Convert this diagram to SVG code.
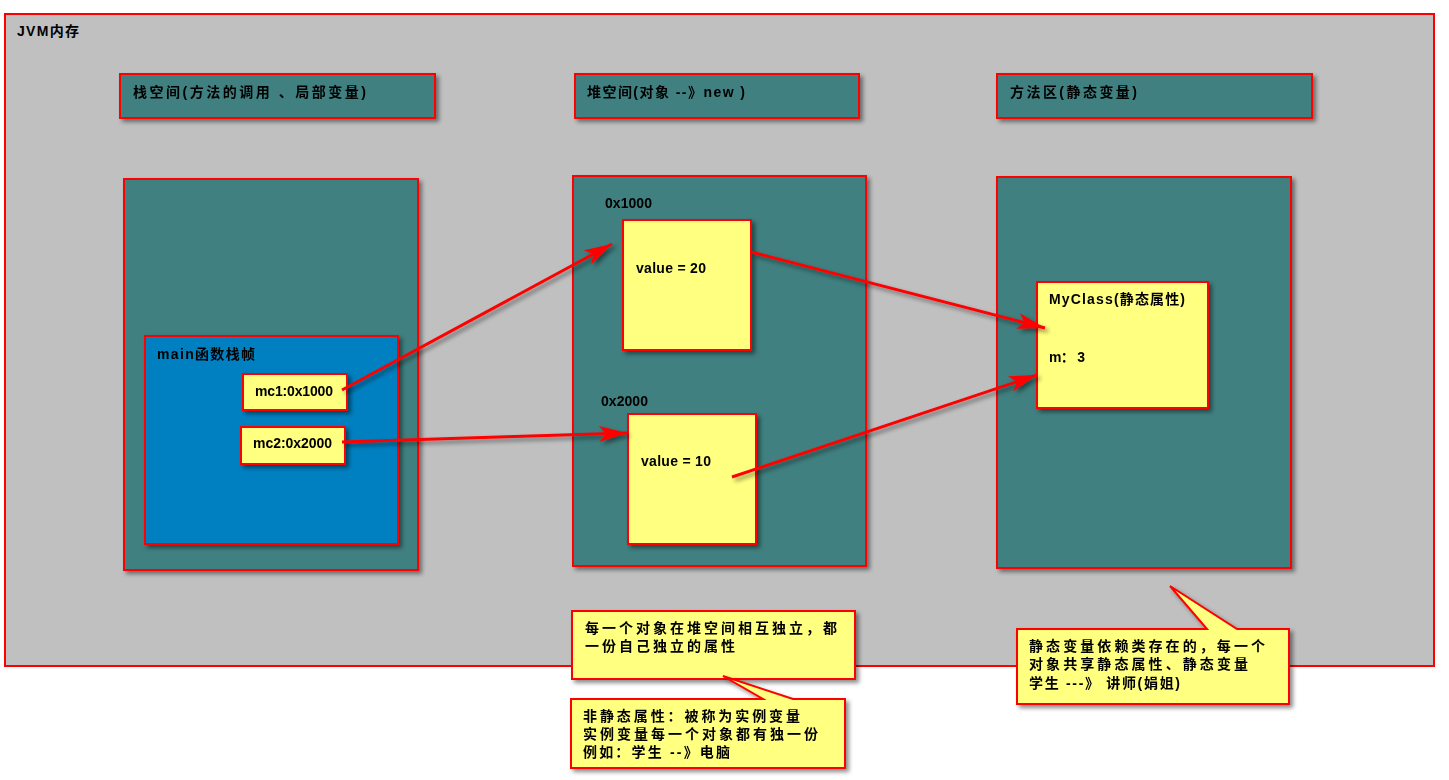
<svg xmlns="http://www.w3.org/2000/svg" width="1449" height="780" viewBox="0 0 1449 780">
<style>
.t{font-family:"Liberation Sans","Noto Sans CJK SC",sans-serif;font-size:14px;font-weight:bold;fill:#000}
.outer{fill:#c0c0c0;stroke:#ff0000;stroke-width:2}
.teal{fill:#408080;stroke:#ff0000;stroke-width:2}
.blue{fill:#0080c0;stroke:#ff0000;stroke-width:2}
.yel{fill:#ffff80;stroke:#ff0000;stroke-width:2}
.arr{fill:none;stroke:#ff0000;stroke-width:3}
</style>
<defs>
<filter id="sh" x="-20%" y="-20%" width="140%" height="140%">
<feDropShadow dx="3" dy="3" stdDeviation="2" flood-color="#000" flood-opacity="0.45"/>
</filter>
<marker id="ah" markerUnits="userSpaceOnUse" markerWidth="30" markerHeight="16" refX="28" refY="8" orient="auto">
<path d="M0,0 L28,8 L0,16 L7,8 Z" fill="#ff0000"/>
</marker>
</defs>
<rect width="1449" height="780" fill="#ffffff"/>
<g id="jvm">
<rect class="outer" x="5" y="14" width="1429" height="652"/>
<text class="t" x="17" y="36" textLength="62">JVM内存</text>
</g>
<g id="stack-header" filter="url(#sh)">
<rect class="teal" x="120" y="74" width="315" height="44"/>
<text class="t" x="133" y="97" textLength="233">栈空间(方法的调用 、局部变量)</text>
</g>
<g id="heap-header" filter="url(#sh)">
<rect class="teal" x="575" y="74" width="284" height="44"/>
<text class="t" x="587" y="97" textLength="158">堆空间(对象 --》new )</text>
</g>
<g id="method-header" filter="url(#sh)">
<rect class="teal" x="997" y="74" width="315" height="44"/>
<text class="t" x="1010" y="97" textLength="127">方法区(静态变量)</text>
</g>
<g id="stack-panel" filter="url(#sh)">
<rect class="teal" x="124" y="179" width="294" height="391"/>
</g>
<g id="heap-panel" filter="url(#sh)">
<rect class="teal" x="573" y="176" width="293" height="390"/>
<text class="t" x="605" y="208" textLength="47">0x1000</text>
<text class="t" x="601" y="406" textLength="47">0x2000</text>
</g>
<g id="method-panel" filter="url(#sh)">
<rect class="teal" x="997" y="177" width="294" height="391"/>
</g>
<g id="main-frame" filter="url(#sh)">
<rect class="blue" x="145" y="336" width="253" height="208"/>
<text class="t" x="157" y="359" textLength="98">main函数栈帧</text>
</g>
<g id="mc1" filter="url(#sh)">
<rect class="yel" x="243" y="374" width="104" height="36"/>
<text class="t" x="255" y="396" textLength="78">mc1:0x1000</text>
</g>
<g id="mc2" filter="url(#sh)">
<rect class="yel" x="241" y="427" width="104" height="37"/>
<text class="t" x="253" y="448" textLength="79">mc2:0x2000</text>
</g>
<g id="obj1" filter="url(#sh)">
<rect class="yel" x="623" y="220" width="128" height="130"/>
<text class="t" x="636" y="273" textLength="70">value = 20</text>
</g>
<g id="obj2" filter="url(#sh)">
<rect class="yel" x="628" y="414" width="128" height="130"/>
<text class="t" x="641" y="466" textLength="70">value = 10</text>
</g>
<g id="myclass" filter="url(#sh)">
<rect class="yel" x="1037" y="282" width="171" height="126"/>
<text class="t" x="1049" y="304" textLength="136">MyClass(静态属性)</text>
<text class="t" x="1049" y="362" textLength="36">m： 3</text>
</g>
<g id="connectors" filter="url(#sh)">
<path class="arr" d="M342,390 L612,244" marker-end="url(#ah)"/>
<path class="arr" d="M342,442 L627,433" marker-end="url(#ah)"/>
<path class="arr" d="M751,252 L1045,328" marker-end="url(#ah)"/>
<path class="arr" d="M732,477 L1037,375" marker-end="url(#ah)"/>
</g>
<g id="note1" filter="url(#sh)">
<rect class="yel" x="572" y="611" width="283" height="68"/>
<text class="t" x="585" y="633" textLength="252">每一个对象在堆空间相互独立，都</text>
<text class="t" x="585" y="651" textLength="150">一份自己独立的属性</text>
</g>
<g id="note2" filter="url(#sh)">
<path class="yel" d="M571,699 L763,699 L723,676 L793,699 L845,699 L845,768 L571,768 Z"/>
<text class="t" x="583" y="721" textLength="217">非静态属性：被称为实例变量</text>
<text class="t" x="583" y="739" textLength="235">实例变量每一个对象都有独一份</text>
<text class="t" x="583" y="757" textLength="147">例如：学生 --》电脑</text>
</g>
<g id="note3" filter="url(#sh)">
<path class="yel" d="M1017,629 L1207,629 L1170,586 L1237,629 L1289,629 L1289,704 L1017,704 Z"/>
<text class="t" x="1029" y="651" textLength="236">静态变量依赖类存在的，每一个</text>
<text class="t" x="1029" y="669" textLength="219">对象共享静态属性、静态变量</text>
<text class="t" x="1029" y="688" textLength="151">学生 ---》 讲师(娟姐)</text>
</g>
</svg>
